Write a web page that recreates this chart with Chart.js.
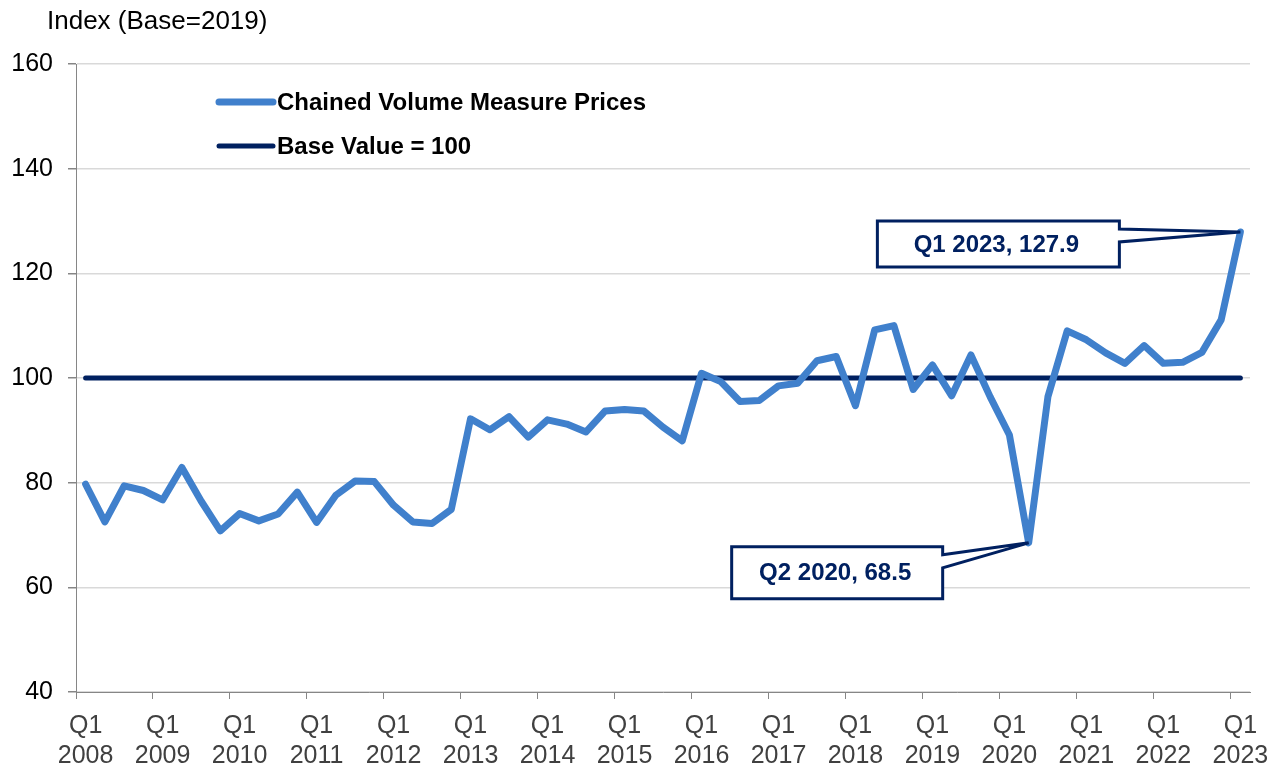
<!DOCTYPE html>
<html>
<head>
<meta charset="utf-8">
<script src="https://cdn.jsdelivr.net/npm/chart.js@4"></script>
<style>
  html, body { margin: 0; padding: 0; background: #fff; }
  #wrap { width: 1281px; height: 767px; position: relative; }
</style>
</head>
<body>
<div id="wrap"><canvas id="chartIndex"></canvas></div>
<script>
const years = [2008, 2009, 2010, 2011, 2012, 2013, 2014, 2015, 2016, 2017, 2018, 2019, 2020, 2021, 2022, 2023];
const quarters = ['Q1', 'Q2', 'Q3', 'Q4'];

// Q1 2008 .. Q1 2023
const labels = [];
years.forEach(y => {
  quarters.forEach(q => {
    if (y < 2023 || q === 'Q1') labels.push(q + ' ' + y);
  });
});

const cvmPrices = [
  79.7, 72.5, 79.4, 78.5, 76.7, 82.9, 76.5, 70.8,
  74.1, 72.7, 74.0, 78.2, 72.4, 77.6, 80.3, 80.2,
  75.7, 72.5, 72.2, 74.9, 92.2, 90.1, 92.6, 88.7,
  92.0, 91.2, 89.7, 93.7, 94.0, 93.7, 90.6, 88.0,
  100.9, 99.3, 95.5, 95.7, 98.5, 99.0, 103.3, 104.1,
  94.7, 109.2, 110.0, 97.8, 102.5, 96.6, 104.4, 96.4,
  89.1, 68.5, 96.4, 109.0, 107.3, 104.8, 102.8, 106.2,
  102.8, 103.0, 104.9, 111.1, 127.9
];
const baseValue = 100;

const yTicks = [40, 60, 80, 100, 120, 140, 160];

const callouts = [
  { label: 'Q1 2023', text: 'Q1 2023, 127.9', box: [-363, -121, -11, 35], wedge: [-3, 10] },
  { label: 'Q2 2020', text: 'Q2 2020, 68.5', box: [-297, -86, 4, 56], wedge: [12, 25] }
];

const blue = '#4080cc';
const navy = '#002060';
const fontFam = '"Liberation Sans", Arial, sans-serif';

const extras = {
  id: 'extras',
  afterDraw(chart) {
    const c = chart.ctx;
    const xs = chart.scales.x, ys = chart.scales.y;
    c.save();

    // axis title
    c.fillStyle = '#000';
    c.font = '26px ' + fontFam;
    c.textBaseline = 'middle';
    c.textAlign = 'left';
    c.fillText('Index (Base=2019)', 47, 22);

    // legend
    const leg = [
      { text: 'Chained Volume Measure Prices', color: blue, w: 7, y: 102 },
      { text: 'Base Value = 100', color: navy, w: 5, y: 146 }
    ];
    leg.forEach(l => {
      c.strokeStyle = l.color;
      c.lineWidth = l.w;
      c.lineCap = 'round';
      c.beginPath();
      c.moveTo(219, l.y);
      c.lineTo(273, l.y);
      c.stroke();
      c.fillStyle = '#000';
      c.font = 'bold 24px ' + fontFam;
      c.fillText(l.text, 277, l.y + 1);
    });

    // callouts
    callouts.forEach(co => {
      const i = labels.indexOf(co.label);
      const tx = xs.getPixelForValue(i);
      const ty = ys.getPixelForValue(cvmPrices[i]);
      const [l, r, t, b] = co.box;
      c.beginPath();
      c.moveTo(tx + l, ty + t);
      c.lineTo(tx + r, ty + t);
      c.lineTo(tx + r, ty + co.wedge[0]);
      c.lineTo(tx, ty);
      c.lineTo(tx + r, ty + co.wedge[1]);
      c.lineTo(tx + r, ty + b);
      c.lineTo(tx + l, ty + b);
      c.closePath();
      c.fillStyle = '#fff';
      c.fill();
      c.lineJoin = 'miter';
      c.lineWidth = 3;
      c.strokeStyle = navy;
      c.stroke();
      c.fillStyle = navy;
      c.font = 'bold 24px ' + fontFam;
      c.textAlign = 'center';
      c.fillText(co.text, tx + (l + r) / 2 - 2, ty + (t + b) / 2 + 1);
      c.textAlign = 'left';
    });
    c.restore();
  }
};

const ctx = document.getElementById('chartIndex').getContext('2d');

const chartIndex = new Chart(ctx, {
  type: 'line',
  data: {
    labels: labels,
    datasets: [{
      label: 'Base Value = 100',
      data: [{ x: labels[0], y: baseValue }, { x: labels[labels.length - 1], y: baseValue }],
      borderColor: navy,
      borderWidth: 5,
      borderCapStyle: 'round',
      pointRadius: 0,
      order: 2
    }, {
      label: 'Chained Volume Measure Prices',
      data: cvmPrices,
      borderColor: blue,
      borderWidth: 7,
      borderJoinStyle: 'round',
      borderCapStyle: 'round',
      pointRadius: 0,
      tension: 0,
      order: 1
    }]
  },
  options: {
    responsive: true,
    maintainAspectRatio: false,
    animation: false,
    layout: { padding: { left: 0, right: 31, top: 64, bottom: 0 } },
    plugins: {
      legend: { display: false },
      tooltip: { enabled: false }
    },
    scales: {
      x: {
        type: 'category',
        offset: true,
        afterFit: s => { s.height = 75; },
        border: { color: '#868686', width: 1 },
        grid: {
          offset: true,
          drawOnChartArea: false,
          tickLength: 7,
          color: c => (c.index % 4 === 0 ? '#868686' : 'rgba(0,0,0,0)')
        },
        ticks: {
          autoSkip: false,
          maxRotation: 0,
          color: '#404040',
          padding: 12,
          font: { family: fontFam, size: 25 },
          callback: function (v, i) {
            if (i % 4 !== 0) return '';
            return labels[i].split(' ');
          }
        }
      },
      y: {
        min: 40,
        max: 160,
        afterFit: s => { s.width = 76; },
        afterBuildTicks: s => { s.ticks = yTicks.map(v => ({ value: v })); },
        border: { color: '#868686', width: 1 },
        grid: {
          color: '#d9d9d9',
          lineWidth: 1.5,
          tickColor: '#868686',
          tickLength: 8
        },
        ticks: {
          color: '#000',
          padding: 15,
          font: { family: fontFam, size: 25 }
        }
      }
    }
  },
  plugins: [extras]
});
</script>
</body>
</html>
